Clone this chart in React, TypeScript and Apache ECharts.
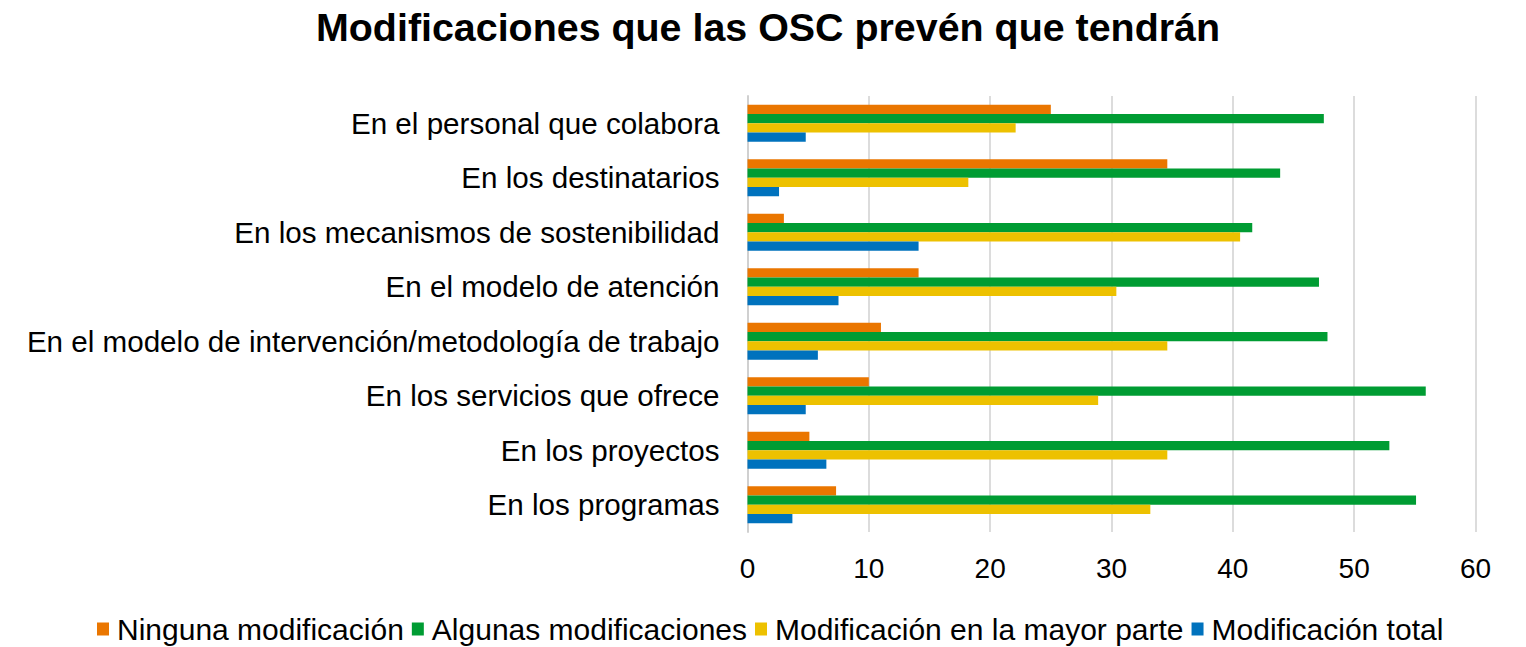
import React, { useEffect, useRef } from "react";
import * as echarts from "echarts";

const categories = [
  "En el personal que colabora",
  "En los destinatarios",
  "En los mecanismos de sostenibilidad",
  "En el modelo de atención",
  "En el modelo de intervención/metodología de trabajo",
  "En los servicios que ofrece",
  "En los proyectos",
  "En los programas",
];

const ninguna = [25.0, 34.6, 3.0, 14.1, 11.0, 10.0, 5.1, 7.3];
const algunas = [47.5, 43.9, 41.6, 47.1, 47.8, 55.9, 52.9, 55.1];
const mayorParte = [22.1, 18.2, 40.6, 30.4, 34.6, 28.9, 34.6, 33.2];
const total = [4.8, 2.6, 14.1, 7.5, 5.8, 4.8, 6.5, 3.7];

const seriesNames = [
  "Ninguna modificación",
  "Algunas modificaciones",
  "Modificación en la mayor parte",
  "Modificación total",
];
const colors = ["#EA7600", "#009C33", "#EDC100", "#0072BD"];
const xTicks = { min: 0, max: 60, interval: 10 };

export default function App() {
  const ref = useRef<HTMLDivElement>(null);
  useEffect(() => {
    document.body.style.margin = "0";
    const chart = echarts.init(ref.current!, null, { renderer: "svg" });
    const font = "'Liberation Sans', Arial, sans-serif";
    const data = [ninguna, algunas, mayorParte, total];
    chart.setOption({
      animation: false,
      color: colors,
      textStyle: { fontFamily: font },
      title: {
        text: "Modificaciones que las OSC prevén que tendrán",
        left: 316,
        top: 7,
        padding: 0,
        textStyle: { fontSize: 39.4, fontWeight: "bold", color: "#000", fontFamily: font },
      },
      grid: { left: 747.5, right: 50.5, top: 96, bottom: 115, containLabel: false },
      xAxis: {
        type: "value",
        min: xTicks.min,
        max: xTicks.max,
        interval: xTicks.interval,
        axisLine: { show: false },
        axisTick: { show: false },
        splitLine: { lineStyle: { color: "#dcdcdc", width: 2 } },
        axisLabel: { fontSize: 28, color: "#000", margin: 22, fontFamily: font },
      },
      yAxis: {
        type: "category",
        inverse: true,
        data: categories,
        axisLine: { show: true, lineStyle: { color: "#d0d0d0", width: 2 } },
        axisTick: { show: false },
        axisLabel: { fontSize: 29.6, color: "#000", margin: 28, fontFamily: font },
      },
      legend: {
        top: 614,
        left: 97,
        padding: 0,
        itemWidth: 12,
        itemHeight: 13,
        itemGap: 8,
        icon: "rect",
        textStyle: { fontSize: 30, lineHeight: 30, color: "#000", fontFamily: font, padding: [0, 0, 0, 3] },
        data: seriesNames,
      },
      series: seriesNames.map((name, i) => ({
        name,
        type: "bar",
        data: data[i],
        barGap: "0%",
        barCategoryGap: "32%",
        itemStyle: { color: colors[i] },
      })),
    });
    return () => chart.dispose();
  }, []);
  return <div ref={ref} style={{ width: 1526, height: 647 }} />;
}
